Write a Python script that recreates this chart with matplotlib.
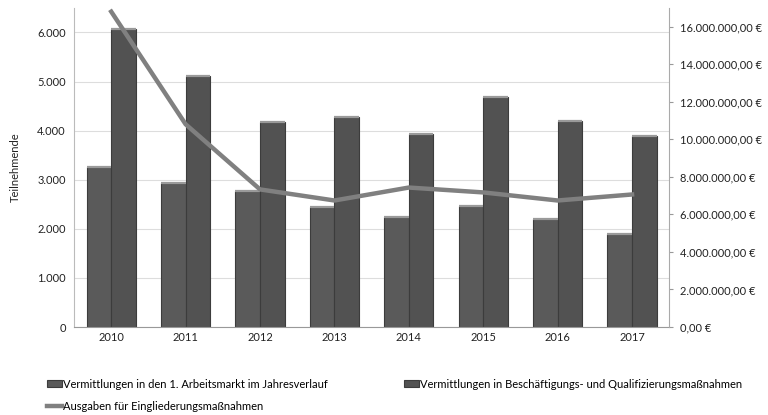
import numpy as np
import matplotlib.pyplot as plt
from matplotlib.ticker import FuncFormatter

plt.rcParams['font.family'] = ['Lato', 'DejaVu Sans']

jahre = ['2010', '2011', '2012', '2013', '2014', '2015', '2016', '2017']
arbeitsmarkt = [3250, 2940, 2780, 2450, 2240, 2470, 2200, 1900]
beschaeftigung = [6080, 5120, 4180, 4270, 3940, 4690, 4200, 3900]
ausgaben = [16.8e6, 10.8e6, 7.33e6, 6.74e6, 7.43e6, 7.17e6, 6.74e6, 7.06e6]

lab1 = 'Vermittlungen in den 1. Arbeitsmarkt im Jahresverlauf'
lab2 = 'Vermittlungen in Beschäftigungs- und Qualifizierungsmaßnahmen'
lab3 = 'Ausgaben für Eingliederungsmaßnahmen'


def de_num(v, dec=0):
    s = f'{v:,.{dec}f}'
    return s.replace(',', 'X').replace('.', ',').replace('X', '.')


fig = plt.figure(figsize=(7.68, 4.15), dpi=100)
ax = fig.add_axes([0.0964, 0.212, 0.775, 0.769])
x = np.arange(len(jahre))
w = 0.33

b1 = ax.bar(x - w/2, arbeitsmarkt, w, color='#5a5a5a', edgecolor='#3c3c3c', linewidth=0.8, label=lab1, zorder=2)
b2 = ax.bar(x + w/2, beschaeftigung, w, color='#525252', edgecolor='#3c3c3c', linewidth=0.8, label=lab2, zorder=2)
# helle Oberkante wie bei den abgeschrägten Balken
for bars in (b1, b2):
    for r in bars:
        ax.plot([r.get_x(), r.get_x() + r.get_width()], [r.get_height()] * 2,
                color='#9a9a9a', lw=1.6, zorder=3, solid_capstyle='butt')

ax.set_xlim(-0.5, len(jahre) - 0.5)
ax.set_ylim(0, 6500)
ax.set_yticks(np.arange(0, 6001, 1000))
ax.yaxis.set_major_formatter(FuncFormatter(lambda v, p: de_num(v)))
ax.set_xticks(x)
ax.set_xticklabels(jahre)
ax.tick_params(axis='both', length=0, labelsize=8, colors='#222222')
ax.tick_params(axis='y', pad=6)
ax.grid(axis='y', color='#dddddd', lw=0.8, zorder=0)
ax.set_ylabel('Teilnehmende', fontsize=8, color='#222222', labelpad=12)
for s in ['top', 'right']:
    ax.spines[s].set_visible(False)
ax.spines['left'].set_color('#bbbbbb')
ax.spines['bottom'].set_color('#999999')

ax2 = ax.twinx()
l3, = ax2.plot(x, ausgaben, color='#808080', lw=3.2, label=lab3, zorder=4)
ax2.set_ylim(0, 17e6)
ax2.set_yticks(np.arange(0, 16.1e6, 2e6))
ax2.yaxis.set_major_formatter(FuncFormatter(lambda v, p: de_num(v, 2) + ' €'))
ax2.tick_params(axis='y', length=3, color='#999999', labelsize=8, colors='#222222', pad=5)
ax2.tick_params(axis='y', color='#999999')
for s in ['top', 'left', 'bottom']:
    ax2.spines[s].set_visible(False)
ax2.spines['right'].set_color('#aaaaaa')

fig.legend([b1, l3, b2], [lab1, lab3, lab2], ncol=2, loc='upper left',
           bbox_to_anchor=(0.056, 0.098), frameon=False, fontsize=8,
           handlelength=1.3, handleheight=0.6, handletextpad=0.1,
           columnspacing=6.9, labelspacing=1.0, borderaxespad=0)

fig.savefig('out.png', dpi=100)
